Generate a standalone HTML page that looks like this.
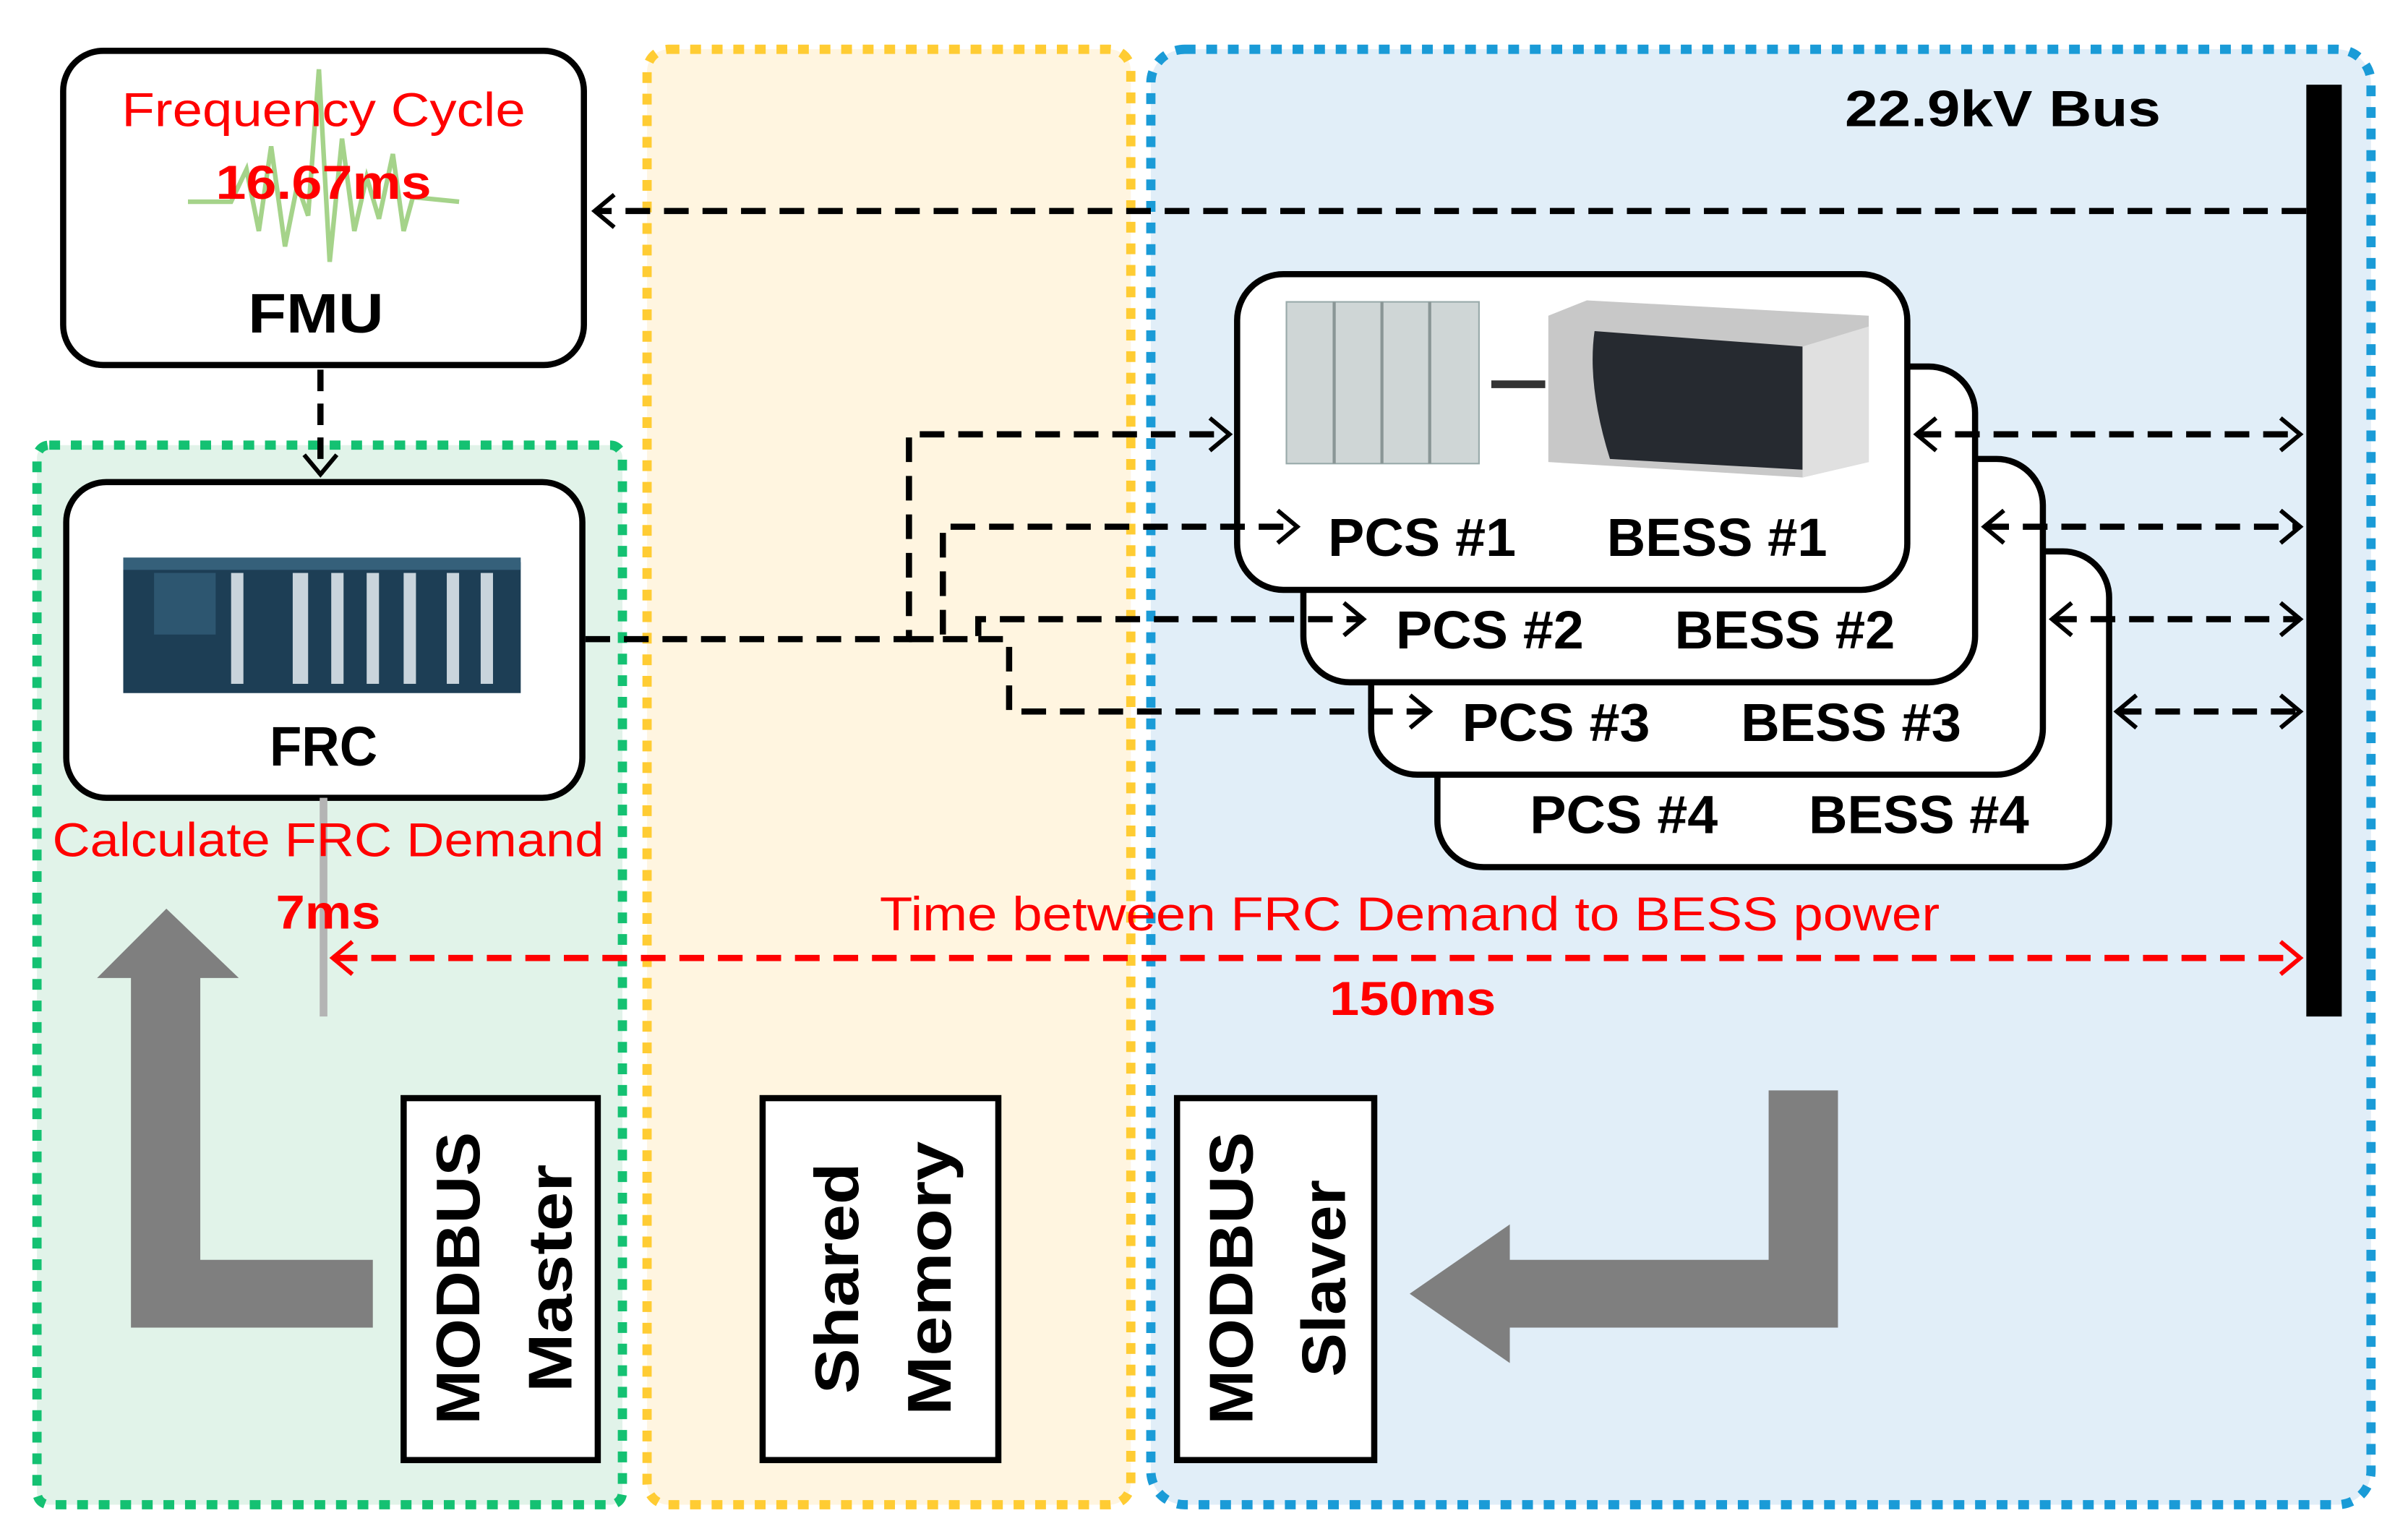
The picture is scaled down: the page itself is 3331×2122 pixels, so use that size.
<!DOCTYPE html>
<html><head><meta charset="utf-8"><style>
html,body{margin:0;padding:0;background:#fff;}
svg{display:block;}
text{font-family:"Liberation Sans",sans-serif;}
</style></head><body>
<svg width="3331" height="2122" viewBox="0 0 1563 996" preserveAspectRatio="none" xmlns="http://www.w3.org/2000/svg">
<defs>
<marker id="ah" viewBox="-2 -2 24 34" refX="18" refY="15" markerWidth="17" markerHeight="24" orient="auto-start-reverse" markerUnits="userSpaceOnUse" style="overflow:visible">
<path d="M0,0 L18,15 L0,30" fill="none" stroke="#000" stroke-width="4"/></marker>
<marker id="ahr" viewBox="-2 -2 24 34" refX="18" refY="15" markerWidth="17" markerHeight="24" orient="auto-start-reverse" markerUnits="userSpaceOnUse" style="overflow:visible">
<path d="M0,0 L18,15 L0,30" fill="none" stroke="#ff0000" stroke-width="4"/></marker>
</defs>
<rect width="1563" height="996" fill="#fff"/>
<rect x="24" y="289" width="380" height="688" rx="8" fill="#e1f3e9" stroke="#14c172" stroke-width="6" stroke-dasharray="7,7"/>
<rect x="420" y="32" width="314" height="945" rx="14" fill="#fff5e0" stroke="#ffcc33" stroke-width="6" stroke-dasharray="7,7"/>
<rect x="747" y="32" width="792" height="945" rx="22" fill="#e1eef8" stroke="#1a9bd7" stroke-width="6" stroke-dasharray="7,7"/>

<rect x="41" y="33" width="338" height="204" rx="26" fill="#fff" stroke="#000" stroke-width="4"/>
<polyline points="122,131 150,131 160,110 168,150 176,95 185,160 193,120 200,140 207,45 214,170 222,90 230,150 238,115 246,142 255,100 262,150 268,128 298,131" fill="none" stroke="#a5d38a" stroke-width="3"/>
<text x="210" y="82" font-size="31" fill="#ff0000" text-anchor="middle" textLength="262" lengthAdjust="spacingAndGlyphs">Frequency Cycle</text>
<text x="210" y="129" font-size="31" fill="#ff0000" font-weight="bold" text-anchor="middle" textLength="140" lengthAdjust="spacingAndGlyphs">16.67ms</text>
<text x="205" y="216" font-size="36" font-weight="bold" text-anchor="middle" textLength="88" lengthAdjust="spacingAndGlyphs">FMU</text>

<rect x="1497" y="55" width="23" height="605" fill="#000"/>
<text x="1300" y="82" font-size="33" font-weight="bold" text-anchor="middle" textLength="205" lengthAdjust="spacingAndGlyphs">22.9kV Bus</text>
<line x1="1497" y1="137" x2="386" y2="137" stroke="#000" stroke-width="4" stroke-dasharray="16,9" marker-end="url(#ah)"/>
<line x1="208" y1="240" x2="208" y2="308" stroke="#000" stroke-width="4" stroke-dasharray="14,8" marker-end="url(#ah)"/>

<rect x="43" y="313" width="335" height="205" rx="26" fill="#fff" stroke="#000" stroke-width="4"/>
<rect x="80" y="365" width="258" height="85" fill="#1d3e55"/>
<rect x="80" y="362" width="258" height="8" fill="#35607a"/>
<g fill="#c9d4dc"><rect x="150" y="372" width="8" height="72"/><rect x="190" y="372" width="10" height="72"/><rect x="215" y="372" width="8" height="72"/><rect x="238" y="372" width="8" height="72"/><rect x="262" y="372" width="8" height="72"/><rect x="290" y="372" width="8" height="72"/><rect x="312" y="372" width="8" height="72"/></g>
<rect x="100" y="372" width="40" height="40" fill="#2d5670"/>
<text x="210" y="497" font-size="36" font-weight="bold" text-anchor="middle" textLength="70" lengthAdjust="spacingAndGlyphs">FRC</text>

<rect x="933" y="358" width="436" height="205" rx="30" fill="#fff" stroke="#000" stroke-width="4"/>
<rect x="890" y="298" width="436" height="205" rx="30" fill="#fff" stroke="#000" stroke-width="4"/>
<rect x="846" y="238" width="436" height="205" rx="30" fill="#fff" stroke="#000" stroke-width="4"/>
<rect x="803" y="178" width="435" height="205" rx="30" fill="#fff" stroke="#000" stroke-width="4"/>
<g font-size="35" font-weight="bold">
<text x="862" y="361" textLength="122" lengthAdjust="spacingAndGlyphs">PCS #1</text><text x="1043" y="361" textLength="143" lengthAdjust="spacingAndGlyphs">BESS #1</text>
<text x="906" y="421" textLength="122" lengthAdjust="spacingAndGlyphs">PCS #2</text><text x="1087" y="421" textLength="143" lengthAdjust="spacingAndGlyphs">BESS #2</text>
<text x="949" y="481" textLength="122" lengthAdjust="spacingAndGlyphs">PCS #3</text><text x="1130" y="481" textLength="143" lengthAdjust="spacingAndGlyphs">BESS #3</text>
<text x="993" y="541" textLength="122" lengthAdjust="spacingAndGlyphs">PCS #4</text><text x="1174" y="541" textLength="143" lengthAdjust="spacingAndGlyphs">BESS #4</text>
</g>
<rect x="835" y="196" width="125" height="105" fill="#cfd6d6" stroke="#9aa" stroke-width="1"/>
<g stroke="#8a9696" stroke-width="2"><line x1="866" y1="196" x2="866" y2="301"/><line x1="897" y1="196" x2="897" y2="301"/><line x1="928" y1="196" x2="928" y2="301"/></g>
<rect x="968" y="247" width="35" height="5" fill="#333"/>
<path d="M1005,205 L1030,195 L1213,205 L1213,300 L1170,310 L1005,300 Z" fill="#c8c8c8"/>
<path d="M1035,215 L1170,225 L1170,305 L1045,298 Q1030,250 1035,215 Z" fill="#262a30"/>
<path d="M1170,225 L1213,212 L1213,300 L1170,310 Z" fill="#e0e0e0"/>

<g fill="none" stroke="#000" stroke-width="4" stroke-dasharray="16,9">
<polyline points="380,415 590,415 590,282 798,282" marker-end="url(#ah)"/>
<polyline points="590,415 612,415 612,342 842,342" marker-end="url(#ah)"/>
<polyline points="612,415 635,415 635,402 885,402" marker-end="url(#ah)"/>
<polyline points="635,415 655,415 655,462 928,462" marker-end="url(#ah)"/>
<line x1="1244" y1="282" x2="1493" y2="282" marker-start="url(#ah)" marker-end="url(#ah)"/>
<line x1="1288" y1="342" x2="1493" y2="342" marker-start="url(#ah)" marker-end="url(#ah)"/>
<line x1="1332" y1="402" x2="1493" y2="402" marker-start="url(#ah)" marker-end="url(#ah)"/>
<line x1="1374" y1="462" x2="1493" y2="462" marker-start="url(#ah)" marker-end="url(#ah)"/>
</g>

<line x1="210" y1="518" x2="210" y2="660" stroke="#b4b4b4" stroke-width="5"/>
<text x="213" y="556" font-size="31" fill="#ff0000" text-anchor="middle" textLength="358" lengthAdjust="spacingAndGlyphs">Calculate FRC Demand</text>
<text x="213" y="603" font-size="31" fill="#ff0000" font-weight="bold" text-anchor="middle" textLength="68" lengthAdjust="spacingAndGlyphs">7ms</text>
<line x1="216" y1="622" x2="1493" y2="622" stroke="#ff0000" stroke-width="4" stroke-dasharray="16,9" marker-start="url(#ahr)" marker-end="url(#ahr)"/>
<text x="915" y="604" font-size="31" fill="#ff0000" text-anchor="middle" textLength="688" lengthAdjust="spacingAndGlyphs">Time between FRC Demand to BESS power</text>
<text x="917" y="659" font-size="31" fill="#ff0000" font-weight="bold" text-anchor="middle" textLength="108" lengthAdjust="spacingAndGlyphs">150ms</text>

<path d="M108,590 L155,635 L130,635 L130,818 L242,818 L242,862 L85,862 L85,635 L63,635 Z" fill="#7f7f7f"/>
<path d="M1148,708 L1193,708 L1193,862 L980,862 L980,885 L915,840 L980,795 L980,818 L1148,818 Z" fill="#7f7f7f"/>

<g fill="#fff" stroke="#000" stroke-width="4">
<rect x="262" y="713" width="126" height="235"/>
<rect x="495" y="713" width="153" height="235"/>
<rect x="764" y="713" width="128" height="235"/>
</g>
<g font-size="40" font-weight="bold" text-anchor="middle">
<text transform="translate(311,830) rotate(-90)" textLength="190" lengthAdjust="spacingAndGlyphs">MODBUS</text>
<text transform="translate(371,830) rotate(-90)" textLength="148" lengthAdjust="spacingAndGlyphs">Master</text>
<text transform="translate(557,830) rotate(-90)" textLength="150" lengthAdjust="spacingAndGlyphs">Shared</text>
<text transform="translate(617,830) rotate(-90)" textLength="178" lengthAdjust="spacingAndGlyphs">Memory</text>
<text transform="translate(813,830) rotate(-90)" textLength="190" lengthAdjust="spacingAndGlyphs">MODBUS</text>
<text transform="translate(873,830) rotate(-90)" textLength="128" lengthAdjust="spacingAndGlyphs">Slaver</text>
</g>
</svg>
</body></html>
